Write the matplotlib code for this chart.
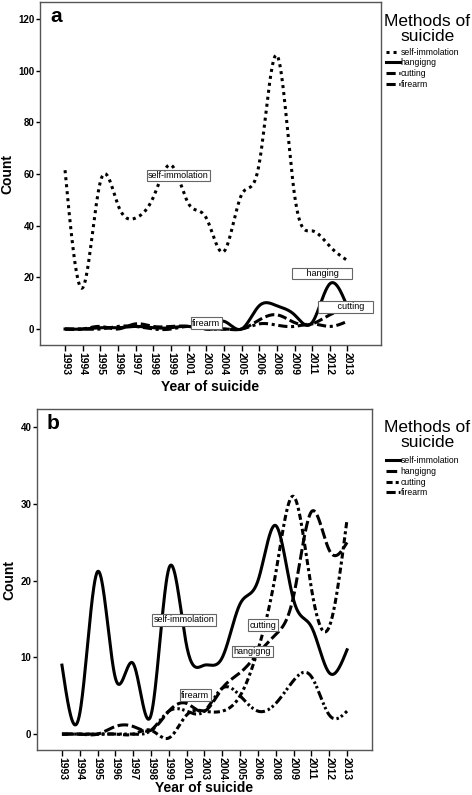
import matplotlib
matplotlib.use("Agg")
import matplotlib.pyplot as plt
import numpy as np

plt.rcParams['font.family'] = ['Liberation Sans', 'DejaVu Sans']

years = ['1993', '1994', '1995', '1996', '1997', '1998', '1999', '2001', '2003',
         '2004', '2005', '2006', '2008', '2009', '2011', '2012', '2013']

# panel a
a_self = [61.5, 16, 57, 48, 43, 51, 63.5, 48.5, 43, 30, 52, 64, 106, 52, 38, 32, 26.5]
a_hanging = [0, 0, 0.5, 0.5, 1, 0.5, 0.5, 1, 0.5, 3, 0, 9, 9, 5.5, 2.5, 17.5, 8.5]
a_cutting = [0, 0, 1, 0, 2, 1, 1, 1, 0, 0, 0, 3.5, 5.5, 2.5, 2, 5.5, 8]
a_firearm = [0, 0, 0, 1, 1, 0, 0, 1, 0, 0, 0, 2, 1.5, 1, 2, 1, 3]

# panel b
b_self = [9, 2.7, 21.2, 7.3, 9.2, 2.5, 21.6, 11.5, 9, 10, 17, 20, 27.2, 17.5, 14, 8, 11]
b_hanging = [0, 0, 0, 1, 1, 0.5, 3, 4, 3, 6, 8, 10.5, 13, 18, 29, 24, 25]
b_cutting = [0, 0, 0, 0, 0, 0.5, -0.5, 2.5, 3, 3, 5, 11, 21, 31, 19, 14, 28]
b_firearm = [0, 0, 0, 0, 0, 0.5, 3, 3, 3, 6, 5, 3, 4, 7, 7.5, 2.5, 3]

labels = ['self-immolation', 'hangigng', 'cutting', 'firearm']

LW = 2.2


def smooth(y, n=600):
    # natural cubic spline through the points, like the SPSS interpolation
    y = np.asarray(y, dtype=float)
    m = len(y)
    A = np.zeros((m, m))
    r = np.zeros(m)
    A[0, 0] = 1
    A[-1, -1] = 1
    for i in range(1, m - 1):
        A[i, i - 1] = 1
        A[i, i] = 4
        A[i, i + 1] = 1
        r[i] = 6 * (y[i - 1] - 2 * y[i] + y[i + 1])
    M = np.linalg.solve(A, r)
    xs = np.linspace(0, m - 1, n)
    k = np.minimum(np.floor(xs).astype(int), m - 2)
    t = xs - k
    ys = ((1 - t) * y[k] + t * y[k + 1]
          + ((1 - t) ** 3 - (1 - t)) * M[k] / 6 + (t ** 3 - t) * M[k + 1] / 6)
    return xs, ys


def note(ax, x, y, txt):
    ax.text(x, y, txt, fontsize=6.5, ha='center', va='center', zorder=5,
            bbox=dict(boxstyle='square,pad=0.15', fc='white', ec='#666666', lw=0.8))


def setup(ax, ylim, yticks, letter, xpad):
    ax.set_ylim(*ylim)
    ax.set_yticks(yticks)
    ax.set_xticks(range(len(years)))
    ax.set_xticklabels(years, rotation=-90, fontsize=7.5, fontweight='bold')
    for lab in ax.get_yticklabels():
        lab.set_fontweight('bold')
        lab.set_fontsize(7)
    ax.tick_params(axis='x', length=4, width=1, pad=1)
    ax.tick_params(axis='y', length=3, width=1, pad=1)
    for s in ax.spines.values():
        s.set_color('#555555')
        s.set_linewidth(1)
    ax.set_ylabel('Count', fontsize=10, fontweight='bold', labelpad=3)
    ax.set_xlabel('Year of suicide', fontsize=10, fontweight='bold', labelpad=xpad)
    ax.text(0.03, 0.985, letter, transform=ax.transAxes, fontsize=15,
            fontweight='bold', va='top', ha='left')


fig = plt.figure(figsize=(4.72, 7.95), dpi=100)

# ---- panel a
ax1 = fig.add_axes([0.0847, 0.566, 0.7225, 0.4314])
styles_a = [(0, (1, 1.3)), '-', (0, (3, 1.2)), (0, (3, 1.2, 1, 1.2))]
for vals, ls, lab in zip([a_self, a_hanging, a_cutting, a_firearm], styles_a, labels):
    xs, ys = smooth(vals)
    ax1.plot(xs, ys, color='black', lw=LW, ls=ls, label=lab, dash_capstyle='butt')
setup(ax1, (-6.2, 126.6), [0, 20, 40, 60, 80, 100, 120], 'a', 3.5)
ax1.set_xlim(-1.42, 17.9)
note(ax1, 6.43, 59.5, 'self-immolation')
note(ax1, 14.58, 21.5, '     hanging     ')
note(ax1, 15.9, 8.6, '       cutting   ')
note(ax1, 8.0, 2.2, 'firearm')
fig.text(0.905, 0.982, 'Methods of\nsuicide', fontsize=12.5, ha='center', va='top',
         linespacing=1.0)
ax1.legend(loc='upper left', bbox_to_anchor=(0.818, 0.94), bbox_transform=fig.transFigure,
           frameon=False, fontsize=6.2, handlelength=1.6, handletextpad=0.1,
           labelspacing=0.2, borderpad=0, borderaxespad=0)

# ---- panel b
ax2 = fig.add_axes([0.0784, 0.0566, 0.7097, 0.4289])
styles_b = ['-', (0, (3.5, 1.2)), (0, (2, 1, 1, 1)), (0, (3, 1, 0.8, 0.8, 0.8, 1))]
for vals, ls, lab in zip([b_self, b_hanging, b_cutting, b_firearm], styles_b, labels):
    xs, ys = smooth(vals)
    ax2.plot(xs, ys, color='black', lw=LW, ls=ls, label=lab, dash_capstyle='butt')
setup(ax2, (-2.07, 42.4), [0, 10, 20, 30, 40], 'b', 0.5)
ax2.set_xlim(-1.4, 17.4)
note(ax2, 6.85, 14.9, 'self-immolation')
note(ax2, 11.27, 14.2, 'cutting')
note(ax2, 10.69, 10.76, 'hangigng')
note(ax2, 7.49, 5.07, 'firearm')
fig.text(0.905, 0.472, 'Methods of\nsuicide', fontsize=12.5, ha='center', va='top',
         linespacing=1.0)
ax2.legend(loc='upper left', bbox_to_anchor=(0.818, 0.426), bbox_transform=fig.transFigure,
           frameon=False, fontsize=6.2, handlelength=1.6, handletextpad=0.1,
           labelspacing=0.2, borderpad=0, borderaxespad=0)

fig.savefig('out.png', dpi=100)
